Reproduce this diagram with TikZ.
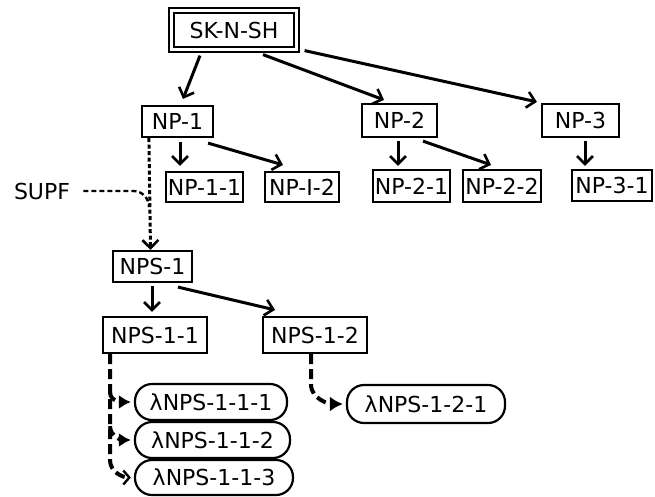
\documentclass[tikz,border=0pt]{standalone}
\usepackage{fontspec}
\setmainfont{DejaVu Sans}
\usetikzlibrary{arrows.meta}

\begin{document}
\begin{tikzpicture}[
        x=1pt, y=1pt,
        >={Straight Barb[length=8pt,width=16pt,line width=2.6pt]},
        line width=3pt,
        box/.style={draw, line width=2.2pt, inner sep=0pt, font=\fontsize{22}{26}\selectfont},
        lam/.style={box, rounded corners=17pt},
        dotline/.style={dash pattern=on 4pt off 2.5pt, line width=3pt},
        supfline/.style={dash pattern=on 5pt off 3pt, line width=2.4pt},
        lamline/.style={dash pattern=on 10pt off 5pt, line width=4pt}
        ]
        \useasboundingbox (0,0) rectangle (655,-496);
        \node[box, double, double distance=3pt, minimum width=125pt, minimum height=39pt] (sk) at (234,-30) {SK-N-SH};
        \node[box, minimum width=71pt, minimum height=31pt] (np1) at (177.5,-121.5) {NP-1};
        \node[box, minimum width=75pt, minimum height=33pt] (np2) at (399.5,-120.5) {NP-2};
        \node[box, minimum width=77pt, minimum height=33pt] (np3) at (580.5,-120.5) {NP-3};
        \node[box, minimum width=77pt, minimum height=30pt] (np11) at (204.5,-187) {NP-1-1};
        \node[box, minimum width=74pt, minimum height=30pt] (np12) at (302,-187) {NP-I-2};
        \node[box, minimum width=77pt, minimum height=32pt] (np21) at (411.5,-186) {NP-2-1};
        \node[box, minimum width=78pt, minimum height=32pt] (np22) at (502,-186) {NP-2-2};
        \node[box, minimum width=80pt, minimum height=31pt] (np31) at (612,-185.5) {NP-3-1};
        \node[font=\fontsize{22}{26}\selectfont, inner sep=0pt] (supf) at (42,-191) {SUPF};
        \node[box, minimum width=79pt, minimum height=31pt] (nps1) at (152.5,-266.5) {NPS-1};
        \node[box, minimum width=104pt, minimum height=36pt] (nps11) at (155,-335) {NPS-1-1};
        \node[box, minimum width=104pt, minimum height=36pt] (nps12) at (315,-335) {NPS-1-2};
        \node[lam, minimum width=152pt, minimum height=36pt] (lam111) at (211,-402) {λNPS-1-1-1};
        \node[lam, minimum width=155pt, minimum height=36pt] (lam112) at (212.5,-440) {λNPS-1-1-2};
        \node[lam, minimum width=158pt, minimum height=35pt] (lam113) at (214,-477.5) {λNPS-1-1-3};
        \node[lam, minimum width=158pt, minimum height=38pt] (lam121) at (426,-404) {λNPS-1-2-1};
        \coordinate (join) at (149,-207);
        \path[->]
              ([shift={(-34,-5)}]sk.south) edge ([shift={(5.5,6)}]np1.north)
              ([shift={(29,-4)}]sk.south) edge ([shift={(-15.5,3)}]np2.north)
              ([shift={(7,0)}]sk.south east) edge ([shift={(-4,1)}]np3.north west)

              ([shift={(2.5,-4)}]np1.south) edge ([shift={(-24.5,5)}]np11.north)
              ([shift={(-6,-5)}]np1.south east) edge ([shift={(-19,6)}]np12.north)
              ([shift={(-1.5,-3)}]np2.south) edge ([shift={(-13.5,3)}]np21.north)
              ([shift={(23.5,-3)}]np2.south) edge ([shift={(-11,4)}]np22.north)
              ([shift={(4.5,-3)}]np3.south) edge ([shift={(-27,3)}]np31.north)

              ([shift={(-0.5,-3)}]nps1.south) edge ([shift={(-3,4)}]nps11.north)
              ([shift={(25.5,-4)}]nps1.south) edge ([shift={(-40,6)}]nps12.north);
        \draw[->, dotline] ([shift={(8,0)}]np1.south west) -- ([shift={(-2,0)}]nps1.north);
        \draw[supfline] ([shift={(12,0)}]supf.east) -- ++(50,0) to[out=0,in=90] (join);
        \draw[lamline, -{Latex[length=12pt,width=14pt]}, shorten >=3pt] ([shift={(-45,-38)}]nps11.south) to[out=-90,in=180] (lam111.west);
        \draw[lamline, -{Latex[length=12pt,width=14pt]}, shorten >=3pt] ([shift={(-45,-72)}]nps11.south) to[out=-90,in=180] (lam112.west);
        \draw[lamline, -{Straight Barb[length=6pt,width=14pt,line width=2.4pt]}, shorten >=3pt] ([shift={(-45,0)}]nps11.south) -- ++(0,-106) to[out=-90,in=180] (lam113.west);
        \draw[lamline, -{Latex[length=13pt,width=15pt]}, shorten >=3pt] ([shift={(-4,0)}]nps12.south) -- ++(0,-30) to[out=-90,in=180] (lam121.west);
\end{tikzpicture}
\end{document}
